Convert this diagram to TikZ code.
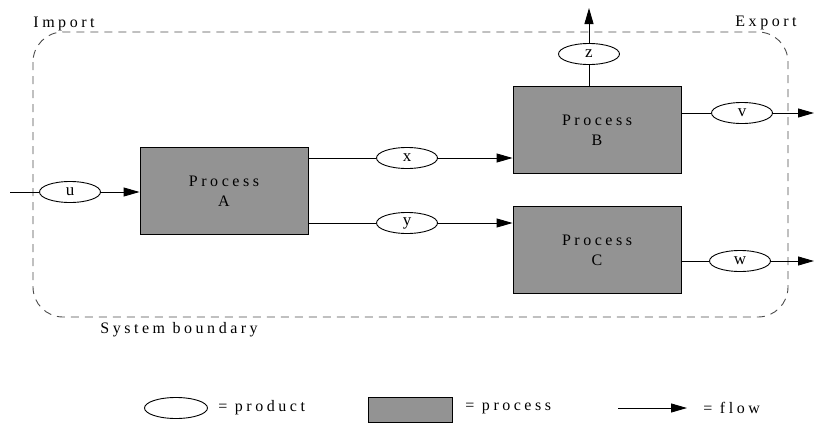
\documentclass[tikz,border=0pt]{standalone}
\usepackage{fontspec}
\setmainfont{Liberation Serif}
\newfontfamily\spaced[LetterSpace=22]{Liberation Serif}
\usetikzlibrary{arrows.meta,shapes.geometric}
\tikzset{
  process/.style={draw, fill=gray!85, minimum width=168pt, minimum height=87pt, align=center, font=\spaced\fontsize{16}{20}\selectfont},
  product/.style={draw, ellipse, fill=white, minimum width=61pt, minimum height=21pt, inner sep=0pt, font=\fontsize{17}{18}\selectfont},
  flow/.style={-{Triangle[length=16pt,width=9pt]}},
  txt/.style={font=\spaced\fontsize{16}{18}\selectfont, inner sep=0pt},
  boundary/.style={draw=black!70, dash pattern=on 8pt off 6pt, rounded corners=30pt}
}
\begin{document}
\begin{tikzpicture}[x=1pt, y=-1pt, line width=0.9pt]
            \useasboundingbox (0,0) rectangle (815,426);
            \draw[boundary] (33,32) rectangle (788,317);
            \node[txt, anchor=base west] (imp) at (33,27) {Import};
            \node[txt, anchor=base west] (exp) at (735,26) {Export};
            \node[txt, anchor=base west] (sys) at (100,333) {System boundary};
            \node[process] (pa) at (224,191) {Process\\A};
            \node[process] (pb) at (597,130) {Process\\B};
            \node[process] (pc) at (597,250) {Process\\C};
            \node[product] (u) at (70,192) {u};
            \node[product] (x) at (407,158) {x};
            \node[product] (y) at (407,223) {y};
            \node[product] (z) at (589,54) {z};
            \node[product] (v) at (742,113) {v};
            \node[product] (w) at (740,261) {w};
            \coordinate (uin) at (10,192);
            \coordinate (zout) at (589,8);
            \coordinate (vout) at (814,113);
            \coordinate (wout) at (814,261);
            \draw (uin) -- (u);
            \draw[flow] (u) -- (pa.west |- u);
            \draw (pa.east |- x) -- (x);
            \draw[flow] (x) -- (pb.west |- x);
            \draw (pa.east |- y) -- (y);
            \draw[flow] (y) -- (pc.west |- y);
            \draw (pb.north -| z) -- (z);
            \draw[flow] (z) -- (zout);
            \draw (pb.east |- v) -- (v);
            \draw[flow] (v) -- (vout);
            \draw (pc.east |- w) -- (w);
            \draw[flow] (w) -- (wout);
            \node[product, minimum width=63pt] (lp) at (176,408) {};
            \node[txt, anchor=west] (lpt) at (218,408) {= product};
            \node[process, minimum width=84pt, minimum height=25pt] (lb) at (410,410) {};
            \node[txt, anchor=west] (lbt) at (465,408) {= process};
            \coordinate (fa) at (618,408);
            \coordinate (fb) at (687,408);
            \draw[flow] (fa) -- (fb);
            \node[txt, anchor=west] (lft) at (703,408) {= flow};
        \end{tikzpicture}
\end{document}
